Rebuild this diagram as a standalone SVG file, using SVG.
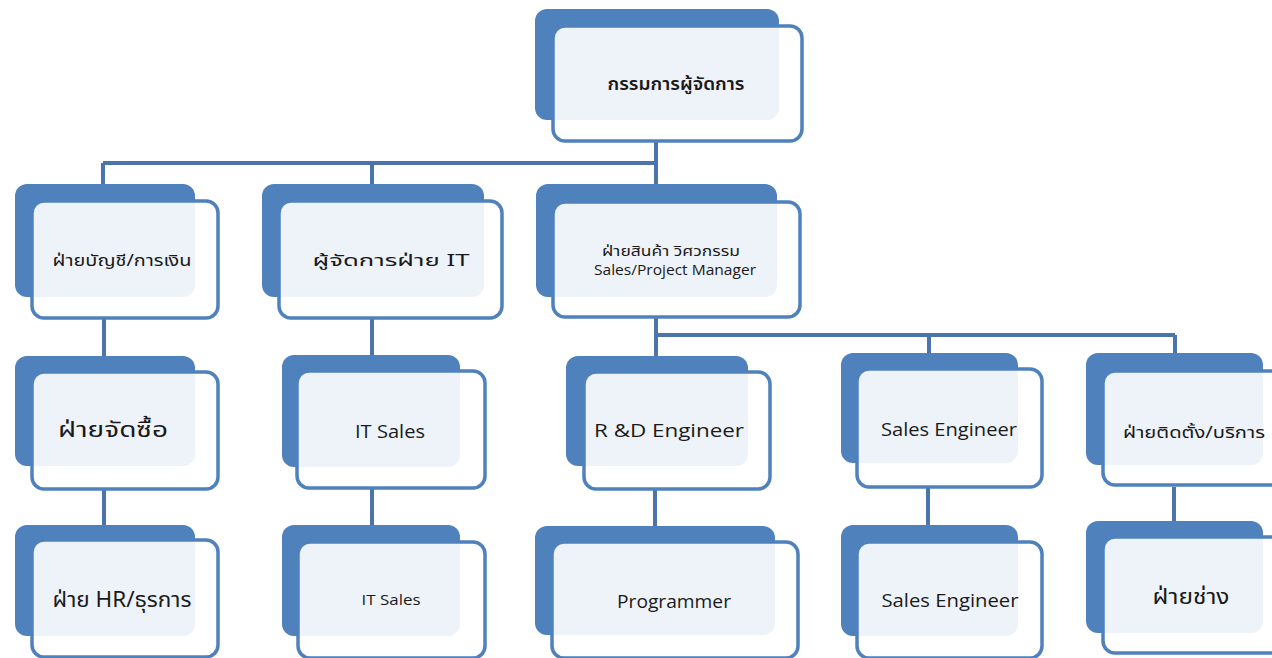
<svg xmlns="http://www.w3.org/2000/svg" width="1272" height="658" viewBox="0 0 1272 658">
<style>
.back{fill:#4f81bd}
.front{fill:#ffffff;fill-opacity:0.9;stroke:#4f81bd;stroke-width:3.5}
.t{font-family:"Noto Sans Thai","Tahoma","Noto Sans","DejaVu Sans",sans-serif;fill:#1a1a1a;text-anchor:middle}
.e{font-family:"Open Sans","Noto Sans","Liberation Sans",sans-serif;fill:#1a1a1a;text-anchor:middle}
.conn{fill:none;stroke:#4a74ab;stroke-width:4}
</style>
<rect width="1272" height="658" fill="#ffffff"/>
<g id="connectors" class="conn">
<path d="M656,142 V163 M103,163 H656 M103,163 V184 M372,163 V184 M656,163 V184"/>
<path d="M104,318 V356 M372,318 V355"/>
<path d="M656,317 V356 M656,335 H1175 M929,335 V353 M1175,335 V353"/>
<path d="M104,490 V525 M372,488 V525 M655,488 V526 M928,487 V525 M1174,487 V521"/>
</g>
<g id="n-top">
<rect class="back" x="535" y="9" width="244" height="111" rx="12"/>
<rect class="front" x="553" y="26" width="249" height="115" rx="12"/>
<text class="t" x="676" y="90" font-size="18" font-weight="600" textLength="137" lengthAdjust="spacingAndGlyphs">กรรมการผู้จัดการ</text>
</g>
<g id="n-acct">
<rect class="back" x="15" y="184" width="180" height="113" rx="12"/>
<rect class="front" x="32" y="201" width="186" height="117" rx="12"/>
<text class="t" x="122" y="266" font-size="16" textLength="139" lengthAdjust="spacingAndGlyphs">ฝ่ายบัญชี/การเงิน</text>
</g>
<g id="n-itmgr">
<rect class="back" x="262" y="184" width="222" height="113" rx="12"/>
<rect class="front" x="279" y="201" width="223" height="117" rx="12"/>
<text class="t" x="391" y="266" font-size="16" textLength="157" lengthAdjust="spacingAndGlyphs">ผู้จัดการฝ่าย IT</text>
</g>
<g id="n-prod">
<rect class="back" x="536" y="184" width="241" height="113" rx="12"/>
<rect class="front" x="553" y="202" width="247" height="115" rx="12"/>
<text class="t" x="671" y="256" font-size="14" textLength="138" lengthAdjust="spacingAndGlyphs">ฝ่ายสินค้า  วิศวกรรม</text>
<text class="e" x="675" y="275" font-size="14" textLength="162" lengthAdjust="spacingAndGlyphs">Sales/Project Manager</text>
</g>
<g id="n-purchase">
<rect class="back" x="15" y="356" width="180" height="110" rx="12"/>
<rect class="front" x="32" y="372" width="186" height="117" rx="12"/>
<text class="t" x="113" y="437" font-size="21" textLength="110" lengthAdjust="spacingAndGlyphs">ฝ่ายจัดซื้อ</text>
</g>
<g id="n-itsales1">
<rect class="back" x="282" y="355" width="178" height="112" rx="12"/>
<rect class="front" x="297" y="371" width="188" height="117" rx="12"/>
<text class="e" x="390" y="438" font-size="19" textLength="70" lengthAdjust="spacingAndGlyphs">IT Sales</text>
</g>
<g id="n-rnd">
<rect class="back" x="566" y="356" width="182" height="110" rx="12"/>
<rect class="front" x="584" y="372" width="186" height="117" rx="12"/>
<text class="e" x="669" y="437" font-size="19" textLength="150" lengthAdjust="spacingAndGlyphs">R &amp;D Engineer</text>
</g>
<g id="n-saleseng1">
<rect class="back" x="841" y="353" width="177" height="110" rx="12"/>
<rect class="front" x="857" y="369" width="185" height="118" rx="12"/>
<text class="e" x="949" y="436" font-size="19" textLength="136" lengthAdjust="spacingAndGlyphs">Sales Engineer</text>
</g>
<g id="n-install">
<rect class="back" x="1086" y="353" width="177" height="112" rx="12"/>
<rect class="front" x="1103" y="371" width="185" height="114" rx="12"/>
<text class="t" x="1194" y="438" font-size="16" textLength="142" lengthAdjust="spacingAndGlyphs">ฝ่ายติดตั้ง/บริการ</text>
</g>
<g id="n-hr">
<rect class="back" x="15" y="525" width="180" height="111" rx="12"/>
<rect class="front" x="32" y="540" width="186" height="117" rx="12"/>
<text class="t" x="122" y="607" font-size="21" textLength="139" lengthAdjust="spacingAndGlyphs">ฝ่าย HR/ธุรการ</text>
</g>
<g id="n-itsales2">
<rect class="back" x="282" y="525" width="178" height="111" rx="12"/>
<rect class="front" x="298" y="542" width="187" height="116" rx="12"/>
<text class="e" x="391" y="605" font-size="15" textLength="59" lengthAdjust="spacingAndGlyphs">IT Sales</text>
</g>
<g id="n-prog">
<rect class="back" x="535" y="526" width="240" height="109" rx="12"/>
<rect class="front" x="552" y="542" width="246" height="116" rx="12"/>
<text class="e" x="674" y="608" font-size="19" textLength="114" lengthAdjust="spacingAndGlyphs">Programmer</text>
</g>
<g id="n-saleseng2">
<rect class="back" x="841" y="525" width="177" height="111" rx="12"/>
<rect class="front" x="857" y="542" width="185" height="116" rx="12"/>
<text class="e" x="950" y="607" font-size="19" textLength="137" lengthAdjust="spacingAndGlyphs">Sales Engineer</text>
</g>
<g id="n-tech">
<rect class="back" x="1086" y="521" width="177" height="112" rx="12"/>
<rect class="front" x="1103" y="537" width="185" height="116" rx="12"/>
<text class="t" x="1191" y="604" font-size="22" textLength="77" lengthAdjust="spacingAndGlyphs">ฝ่ายช่าง</text>
</g>
</svg>
